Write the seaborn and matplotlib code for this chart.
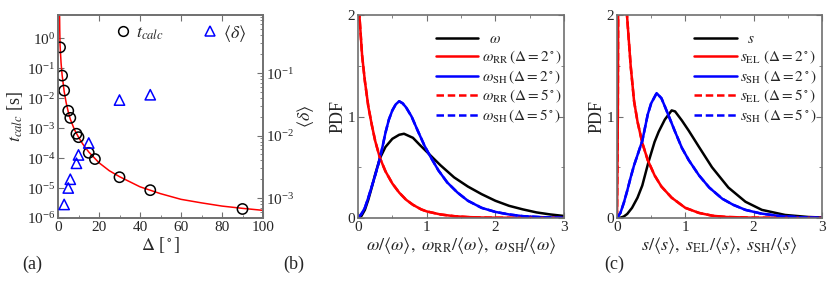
import numpy as np
import seaborn as sns
import matplotlib.pyplot as plt
from matplotlib.lines import Line2D
from matplotlib.ticker import LogLocator, NullLocator, MultipleLocator, LogFormatterSciNotation

# (a) calculation time and mean error vs. discretisation angle
delta_t = [1, 2, 3, 5, 6, 9, 10, 15, 18, 30, 45, 90]
t_calc = [0.5, 0.057, 0.018, 0.0038, 0.0022, 6.5e-4, 5e-4, 1.5e-4, 9.3e-5, 2.3e-5, 8.5e-6, 2.0e-6]
delta_d = [3, 5, 6, 9, 10, 15, 30, 45]
mean_delta = [7.9e-4, 1.45e-3, 2.0e-3, 3.6e-3, 4.9e-3, 7.6e-3, 0.037, 0.045]
fit_x = [0.75, 0.85, 1, 1.5, 2, 3, 4, 5, 6, 8, 10, 12, 15, 20, 25, 30, 40, 50, 60, 70, 80, 90, 100]
fit_t = [8.0, 2.0, 0.6, 0.15, 0.06, 0.017, 0.007, 0.0035, 0.002, 9e-4, 5e-4, 3e-4, 1.6e-4,
         7e-5, 3.8e-5, 2.4e-5, 1.1e-5, 6.5e-6, 4.2e-6, 3.2e-6, 2.5e-6, 2.1e-6, 1.8e-6]

# (b) PDFs of omega
w_x = [0, 0.05, 0.1, 0.15, 0.2, 0.25, 0.32, 0.4, 0.5, 0.6, 0.67, 0.8, 0.9, 1.05, 1.2, 1.4,
       1.6, 1.8, 2.0, 2.2, 2.4, 2.6, 2.8, 3.0]
w_pdf = [0, 0.02, 0.08, 0.18, 0.3, 0.43, 0.59, 0.7, 0.78, 0.82, 0.83, 0.79, 0.72, 0.62, 0.52,
         0.40, 0.31, 0.235, 0.17, 0.12, 0.085, 0.055, 0.035, 0.02]
wsh_x = [0, 0.05, 0.1, 0.15, 0.2, 0.25, 0.3, 0.35, 0.4, 0.45, 0.5, 0.55, 0.6, 0.65, 0.7, 0.78,
         0.87, 0.97, 1.05, 1.17, 1.3, 1.45, 1.6, 1.8, 2.0, 2.2, 2.4, 2.7, 3.0]
wsh_pdf = [0, 0.04, 0.1, 0.2, 0.31, 0.42, 0.54, 0.68, 0.84, 0.97, 1.06, 1.12, 1.15, 1.13, 1.09,
           1.0, 0.86, 0.71, 0.61, 0.47, 0.35, 0.25, 0.17, 0.1, 0.06, 0.035, 0.018, 0.007, 0.002]
wrr_x = [0, 0.02, 0.06, 0.1, 0.15, 0.2, 0.25, 0.32, 0.4, 0.5, 0.6, 0.7, 0.8, 0.92, 1.0, 1.2,
         1.4, 1.6, 1.8, 2.0, 2.5, 3.0]
wrr_pdf = [2.4, 2.0, 1.6, 1.35, 1.1, 0.92, 0.76, 0.59, 0.46, 0.34, 0.25, 0.18, 0.13, 0.085,
           0.065, 0.035, 0.018, 0.009, 0.005, 0.003, 0.001, 0.0]

# (c) PDFs of s
s_x = [0, 0.05, 0.1, 0.15, 0.22, 0.3, 0.37, 0.46, 0.55, 0.61, 0.7, 0.8, 0.85, 0.95, 1.05, 1.2,
       1.39, 1.63, 1.88, 2.12, 2.46, 2.8, 3.0]
s_pdf = [0, 0.003, 0.015, 0.04, 0.1, 0.2, 0.32, 0.55, 0.75, 0.85, 0.97, 1.06, 1.05, 0.96, 0.86,
         0.7, 0.5, 0.3, 0.16, 0.08, 0.03, 0.01, 0.005]
ssh_x = [0, 0.05, 0.1, 0.15, 0.2, 0.25, 0.3, 0.37, 0.45, 0.5, 0.58, 0.65, 0.7, 0.76, 0.85, 0.95,
         1.05, 1.2, 1.35, 1.54, 1.7, 1.88, 2.1, 2.37, 2.7, 3.0]
ssh_pdf = [0, 0.05, 0.15, 0.27, 0.4, 0.52, 0.62, 0.76, 1.02, 1.13, 1.23, 1.18, 1.1, 1.0, 0.85,
           0.69, 0.57, 0.42, 0.3, 0.19, 0.13, 0.08, 0.045, 0.02, 0.006, 0.002]
sel_x = [0, 0.012, 0.022, 0.1, 0.146, 0.2, 0.25, 0.3, 0.37, 0.45, 0.55, 0.65, 0.8, 1.0, 1.2,
         1.4, 1.6, 2.0, 3.0]
sel_pdf = [0, 1.0, 3.0, 3.0, 2.0, 1.5, 1.15, 0.95, 0.74, 0.57, 0.42, 0.31, 0.2, 0.1, 0.05,
           0.022, 0.01, 0.003, 0.0]
# the Delta = 5 deg curves lie on top of the Delta = 2 deg ones

sns.set_style("ticks")
plt.rcParams["font.family"] = ["Liberation Serif", "DejaVu Serif"]
plt.rcParams["mathtext.fontset"] = "stix"
plt.rcParams["font.size"] = 11

spine_c = "#707070"

fig = plt.figure(figsize=(8.3, 2.85), dpi=100)
ax1 = fig.add_axes([58/830, 67/285, 205/830, 203/285])
ax1r = ax1.twinx()
ax2 = fig.add_axes([358/830, 67/285, 206/830, 203/285])
ax3 = fig.add_axes([617/830, 67/285, 205/830, 203/285])


def style(ax):
    for sp in ax.spines.values():
        sp.set_color(spine_c)
        sp.set_linewidth(1.2)
    ax.tick_params(which="both", direction="in", color=spine_c, labelsize=11, pad=2)
    ax.tick_params(which="major", length=4)
    ax.tick_params(which="minor", length=2.5)


# panel a
sns.lineplot(x=fit_x, y=fit_t, ax=ax1, color="red", lw=1.1, sort=False, estimator=None)
sns.scatterplot(x=delta_t, y=t_calc, ax=ax1, marker="o", s=55, facecolors="none",
                edgecolor="black", linewidth=1.1, zorder=3)
sns.scatterplot(x=delta_d, y=mean_delta, ax=ax1r, marker="^", s=55, facecolors="none",
                edgecolor="blue", linewidth=1.1, zorder=3)
ax1.set_yscale("log")
ax1r.set_yscale("log")
ax1.set_xlim(0, 100)
ax1.set_ylim(1e-6, 6)
ax1r.set_ylim(4.8e-4, 0.85)
ax1.xaxis.set_major_locator(MultipleLocator(20))
ax1.xaxis.set_minor_locator(MultipleLocator(10))
ax1.yaxis.set_major_locator(LogLocator(base=10, numticks=10))
ax1.yaxis.set_minor_locator(NullLocator())
ax1.yaxis.set_major_formatter(LogFormatterSciNotation())
ax1r.yaxis.set_major_locator(LogLocator(base=10, numticks=10))
ax1r.yaxis.set_minor_locator(LogLocator(base=10, subs=np.arange(2, 10), numticks=10))
style(ax1)
style(ax1r)
ax1.tick_params(top=True, right=False)
ax1.set_xlabel(r"$\Delta$ [$^\circ$]", fontsize=13, labelpad=1)
ax1.set_ylabel(r"$t_{calc}$ [s]", fontsize=13, labelpad=1)
ax1r.set_ylabel(r"$\langle\delta\rangle$", fontsize=13, labelpad=1)
handles = [Line2D([], [], ls="", marker="o", mfc="none", mec="black", ms=7, mew=1.1),
           Line2D([], [], ls="", marker="^", mfc="none", mec="blue", ms=7, mew=1.1)]
ax1r.legend(handles, [r"$t_{calc}$", r"$\langle\delta\rangle$"], ncol=2, loc="center",
            bbox_to_anchor=(0.6, 0.91), frameon=False, fontsize=13, handlelength=0.8,
            handletextpad=0.3, columnspacing=2.2, borderpad=0)

# panels b and c
def pdf_panel(ax, curves, labels):
    for (x, y, c, ls) in curves:
        sns.lineplot(x=x, y=y, ax=ax, color=c, lw=1.8, ls=ls, sort=False, estimator=None)
    ax.set_xlim(0, 3)
    ax.set_ylim(0, 2)
    ax.xaxis.set_major_locator(MultipleLocator(1))
    ax.xaxis.set_minor_locator(MultipleLocator(0.5))
    ax.yaxis.set_major_locator(MultipleLocator(1))
    ax.yaxis.set_minor_locator(MultipleLocator(0.5))
    style(ax)
    ax.tick_params(which="both", top=True, right=True)
    ax.set_ylabel("PDF", fontsize=13, labelpad=1)
    hs = [Line2D([], [], color=c, lw=1.8, ls=ls) for (_, _, c, ls) in curves]
    ax.legend(hs, labels, loc="upper left", bbox_to_anchor=(0.34, 0.95), frameon=False,
              fontsize=11, handlelength=2.8, handletextpad=0.2, labelspacing=0.15,
              borderpad=0)


dash = (0, (3, 1.5))
pdf_panel(ax2, [(w_x, w_pdf, "black", "-"), (wrr_x, wrr_pdf, "red", "-"),
                (wsh_x, wsh_pdf, "blue", "-"), (wrr_x, wrr_pdf, "red", dash),
                (wsh_x, wsh_pdf, "blue", dash)],
          [r"  $\omega$", r"$\omega_{\mathrm{RR}}\,(\Delta = 2^\circ)$",
           r"$\omega_{\mathrm{SH}}\,(\Delta = 2^\circ)$",
           r"$\omega_{\mathrm{RR}}\,(\Delta = 5^\circ)$",
           r"$\omega_{\mathrm{SH}}\,(\Delta = 5^\circ)$"])
ax2.set_xlabel(r"$\omega/\langle\omega\rangle,\ \omega_{\mathrm{RR}}/\langle\omega\rangle,\ "
               r"\omega_{\mathrm{SH}}/\langle\omega\rangle$", fontsize=13, labelpad=1)

pdf_panel(ax3, [(s_x, s_pdf, "black", "-"), (sel_x, sel_pdf, "red", "-"),
                (ssh_x, ssh_pdf, "blue", "-"), (sel_x, sel_pdf, "red", dash),
                (ssh_x, ssh_pdf, "blue", dash)],
          [r"  $s$", r"$s_{\mathrm{EL}}\ (\Delta = 2^\circ)$",
           r"$s_{\mathrm{SH}}\ (\Delta = 2^\circ)$",
           r"$s_{\mathrm{EL}}\ (\Delta = 5^\circ)$",
           r"$s_{\mathrm{SH}}\ (\Delta = 5^\circ)$"])
ax3.set_xlabel(r"$s/\langle s\rangle,\ s_{\mathrm{EL}}/\langle s\rangle,\ "
               r"s_{\mathrm{SH}}/\langle s\rangle$", fontsize=13, labelpad=1)

for x, lab in [(22, "(a)"), (283, "(b)"), (604, "(c)")]:
    fig.text(x/830, 1 - 264/285, lab, fontsize=13, va="center", ha="left")

fig.savefig("out.png", dpi=100)
